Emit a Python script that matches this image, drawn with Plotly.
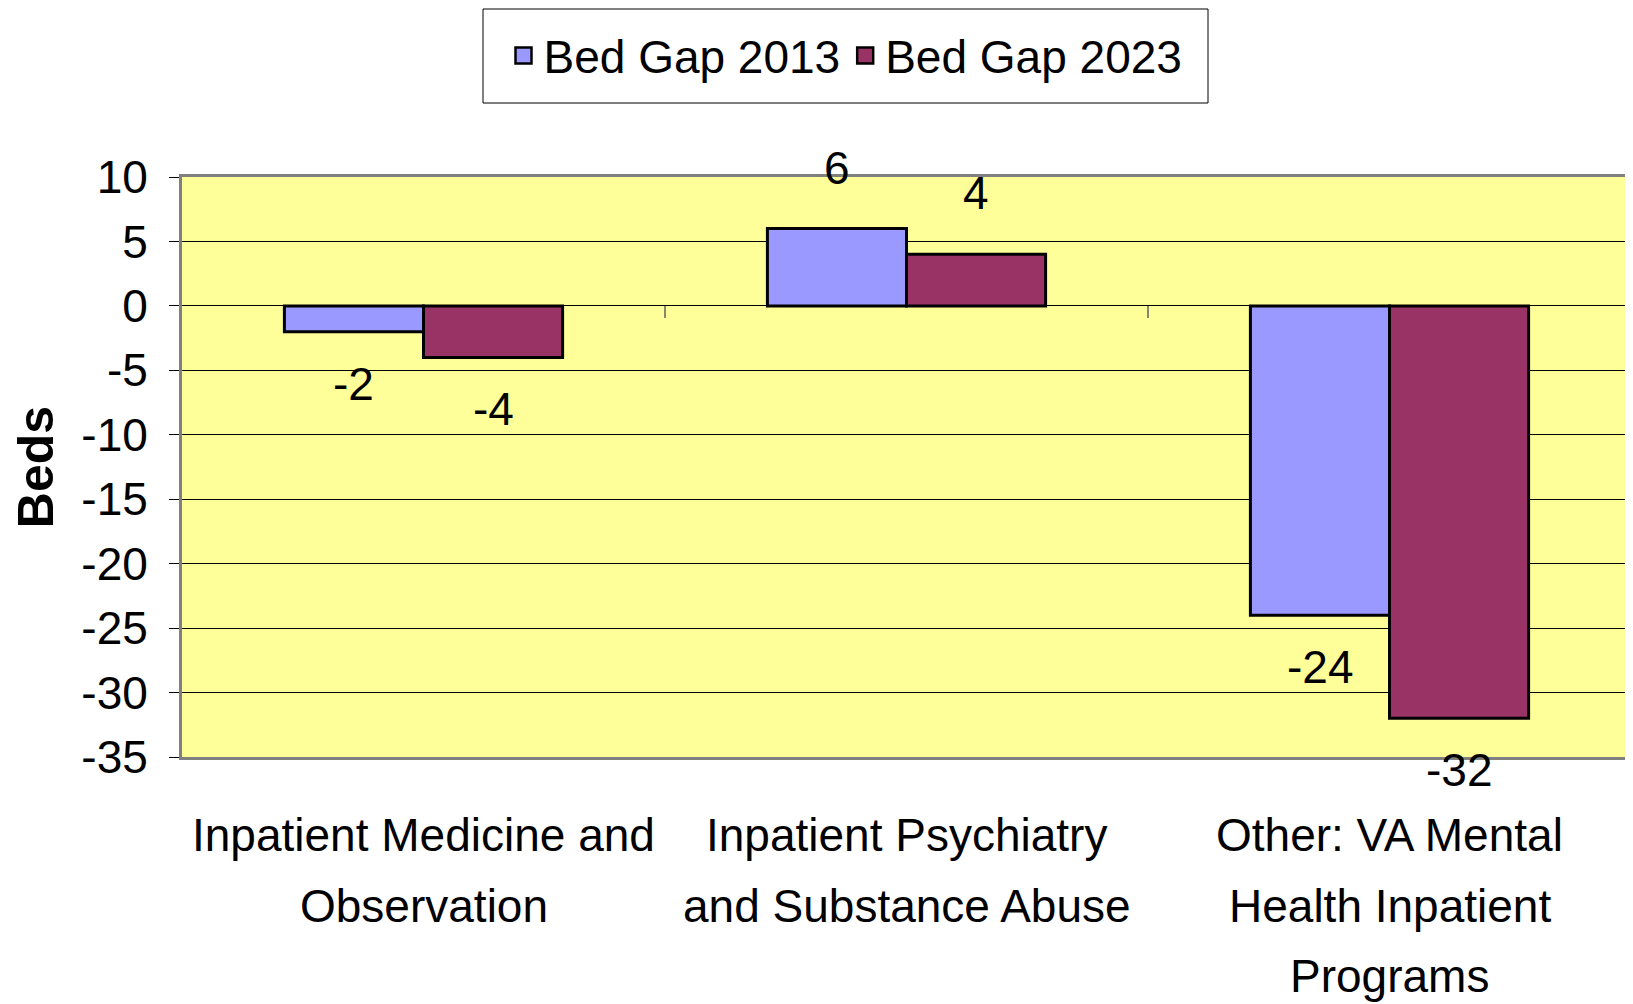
import plotly.graph_objects as go

categories = ["Inpatient Medicine and<br>Observation",
              "Inpatient Psychiatry<br>and Substance Abuse",
              "Other: VA Mental<br>Health Inpatient<br>Programs"]
series_names = ["Bed Gap 2013", "Bed Gap 2023"]
gap_2013 = [-2, 6, -24]
gap_2023 = [-4, 4, -32]
colors = ["#9999FF", "#993366"]
y_ticks = [10, 5, 0, -5, -10, -15, -20, -25, -30, -35]

FONT = "Liberation Sans, Arial, sans-serif"
FS = 46
BARGAP = 0.424
W, H = 1633, 1004
ML, MR, MT, MB = 174, 10, 169, 255
PW, PH = W - ML - MR, H - MT - MB

xs = list(range(len(categories)))
series = [gap_2013, gap_2023]

fig = go.Figure()
for name, vals, col in zip(series_names, series, colors):
    fig.add_trace(go.Bar(
        x=xs, y=vals, name=name, showlegend=False,
        marker=dict(color=col, line=dict(color="black", width=3)),
    ))
# legend entries (square swatches)
for name, col in zip(series_names, colors):
    fig.add_trace(go.Scatter(
        x=[None], y=[None], mode="markers", name=name,
        marker=dict(symbol="square", size=22, color=col,
                    line=dict(color="black", width=2.5)),
    ))

# data labels
group_w = 1 - BARGAP
n = len(series)
annotations = []
for k, vals in enumerate(series):
    off = (-0.5 + (k + 0.5) / n) * group_w
    for i, v in enumerate(vals):
        annotations.append(dict(
            x=xs[i] + off, y=v, xref="x", yref="y", text=str(v),
            showarrow=False, yanchor="middle", xanchor="center",
            yshift=61 if v >= 0 else -52,
            font=dict(family=FONT, size=FS, color="black"),
        ))

# category labels (one annotation per line, Excel-like line spacing)
LINE0, LINESTEP = 78, 70.5
for i, cat in enumerate(categories):
    for j, line in enumerate(cat.split("<br>")):
        annotations.append(dict(
            x=xs[i], y=0, xref="x", yref="paper", text=line,
            showarrow=False, yanchor="middle", xanchor="center",
            yshift=-(LINE0 + j * LINESTEP),
            font=dict(family=FONT, size=FS, color="black"),
        ))

# small category-separator ticks on the zero line
shapes = []
for i in xs[:-1]:
    shapes.append(dict(type="line", xref="x", yref="y", x0=i + 0.5, x1=i + 0.5,
                       ysizemode="pixel", yanchor=0, y0=0, y1=-12,
                       line=dict(color="#606060", width=1.5)))

# legend frame (pixel box converted to paper coords)
LX0, LX1, LY0, LY1 = 475, 1200, 0, 95
shapes.append(dict(
    type="rect", xref="paper", yref="paper", layer="below",
    x0=(LX0 - ML) / PW, x1=(LX1 - ML) / PW,
    y0=1 + (MT - LY1) / PH, y1=1 + (MT - LY0 - 1) / PH,
    fillcolor="white", line=dict(color="black", width=1),
))

fig.update_layout(
    width=W, height=H,
    margin=dict(l=ML, r=MR, t=MT, b=MB),
    paper_bgcolor="white",
    plot_bgcolor="#FFFF99",
    barmode="group", bargap=BARGAP, bargroupgap=0,
    font=dict(family=FONT, size=FS, color="black"),
    showlegend=True,
    legend=dict(
        orientation="h", xref="container", yref="container",
        x=((LX0 + LX1) / 2) / W, y=1 - ((LY0 + LY1) / 2) / H,
        xanchor="center", yanchor="middle",
        bgcolor="rgba(0,0,0,0)", borderwidth=0,
        font=dict(family=FONT, size=FS, color="black"),
        itemsizing="trace",
    ),
    annotations=annotations,
    shapes=shapes,
)
fig.update_xaxes(
    tickmode="array", tickvals=xs, showticklabels=False,
    range=[-0.5, len(xs) - 0.5], automargin=False,
    showgrid=False, zeroline=False,
    showline=True, linecolor="#808080", linewidth=3, mirror=True,
    ticks="",
)
fig.update_yaxes(
    range=[-35, 10], tickmode="array", tickvals=y_ticks,
    ticktext=[str(t) for t in y_ticks], automargin=False,
    showgrid=True, gridcolor="black", gridwidth=1,
    zeroline=False,
    showline=True, linecolor="#808080", linewidth=3, mirror=True,
    ticks="outside", ticklen=10, tickcolor="black", tickwidth=1,
    ticklabelstandoff=12,
    tickfont=dict(family=FONT, size=FS, color="black"),
    title=dict(text="<b>Beds</b>", standoff=32,
               font=dict(family=FONT, size=50, color="black")),
)

fig.write_html("out.html")
